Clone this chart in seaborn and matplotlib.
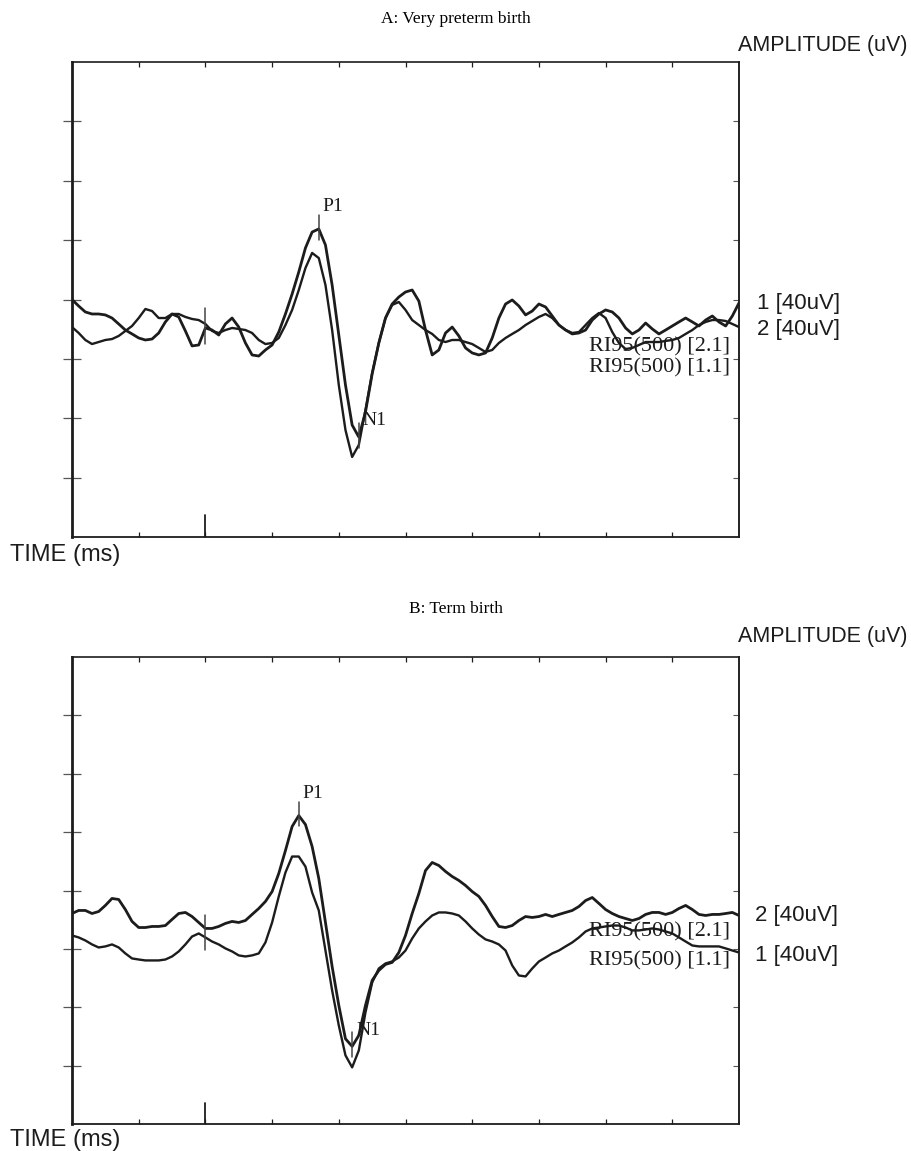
import numpy as np
import pandas as pd
import matplotlib
matplotlib.use("Agg")
import matplotlib.pyplot as plt
import seaborn as sns

# ---------------- data (amplitude in uV, 5 ms sampling) ----------------
time_ms = list(range(-100, 405, 5))

a_ch1 = [0.0, -0.55, -1.05, -1.22, -1.22, -1.30, -1.56, -2.06, -2.57, -2.90,
         -3.24, -3.41, -3.33, -2.82, -1.89, -1.22, -1.47, -2.65, -3.91, -3.83,
         -2.40, -2.57, -2.99, -2.06, -1.56, -2.32, -3.66, -4.67, -4.76, -4.25,
         -3.83, -2.74, -1.22, 0.46, 2.32, 4.34, 5.68, 5.94, 4.59, 1.22,
         -2.99, -7.20, -10.57, -11.58, -9.47, -6.27, -3.66, -1.56, -0.38, 0.21,
         0.63, 0.80, -0.13, -2.57, -4.67, -4.25, -2.82, -2.32, -3.07, -4.08,
         -4.50, -4.67, -4.50, -3.24, -1.56, -0.38, -0.04, -0.55, -1.30, -0.97,
         -0.38, -0.63, -1.39, -2.15, -2.57, -2.90, -2.82, -2.57, -1.73, -1.22,
         -0.88, -1.05, -1.56, -2.40, -2.90, -2.57, -1.98, -2.48, -2.90, -2.57,
         -2.23, -1.89, -1.56, -1.89, -2.23, -1.73, -1.39, -1.89, -2.23, -1.39,
         -0.29]

a_ch2 = [-2.32, -2.82, -3.41, -3.75, -3.58, -3.41, -3.33, -3.07, -2.65, -2.23,
         -1.56, -0.80, -0.97, -1.56, -1.56, -1.22, -1.22, -1.47, -1.64, -1.73,
         -2.06, -2.65, -2.82, -2.57, -2.40, -2.48, -2.57, -2.82, -3.41, -3.75,
         -3.66, -3.24, -2.15, -0.88, 0.80, 2.65, 3.92, 3.49, 1.22, -2.57,
         -7.20, -10.99, -13.26, -12.25, -9.30, -6.19, -3.66, -1.56, -0.46, -0.21,
         -0.88, -1.73, -2.15, -2.57, -2.90, -3.41, -3.58, -3.41, -3.41, -3.58,
         -3.75, -4.08, -4.42, -4.25, -3.66, -3.24, -2.90, -2.57, -2.15, -1.81,
         -1.47, -1.22, -1.56, -2.15, -2.57, -2.82, -2.74, -2.15, -1.56, -1.14,
         -1.56, -2.74, -3.66, -4.17, -4.08, -3.83, -3.58, -3.58, -3.58, -3.49,
         -3.41, -3.24, -2.90, -2.57, -2.15, -1.89, -1.73, -1.73, -1.81, -2.06,
         -2.32]

b_ch1 = [-3.85, -4.02, -4.28, -4.62, -4.88, -4.79, -4.62, -4.88, -5.39, -5.82,
         -5.91, -5.99, -5.99, -5.99, -5.91, -5.65, -5.22, -4.62, -3.94, -3.68,
         -4.02, -4.37, -4.62, -4.96, -5.22, -5.56, -5.65, -5.56, -5.39, -4.45,
         -2.74, -0.51, 1.54, 2.91, 2.91, 2.05, -0.17, -1.71, -5.14, -8.56,
         -11.56, -14.12, -15.15, -13.70, -10.44, -7.88, -6.68, -6.25, -6.08, -5.74,
         -5.14, -4.11, -3.25, -2.65, -2.14, -1.88, -1.88, -1.97, -2.14, -2.65,
         -3.25, -3.77, -4.19, -4.37, -4.62, -5.14, -6.42, -7.28, -7.36, -6.68,
         -6.08, -5.74, -5.39, -5.14, -4.79, -4.45, -4.02, -3.51, -3.25, -3.17,
         -3.08, -3.00, -3.00, -3.17, -3.42, -3.42, -3.34, -3.25, -3.34, -3.51,
         -3.68, -4.02, -4.37, -4.71, -4.79, -4.79, -4.79, -4.79, -4.96, -5.14,
         -5.31]

b_ch2 = [-1.97, -1.71, -1.71, -1.97, -1.80, -1.28, -0.68, -0.77, -1.63, -2.65,
         -3.17, -3.17, -3.08, -3.08, -3.00, -2.48, -1.97, -1.88, -2.23, -2.74,
         -3.25, -3.25, -3.08, -2.82, -2.65, -2.74, -2.57, -2.05, -1.54, -0.94,
         -0.09, 1.46, 3.42, 5.48, 6.42, 5.65, 3.77, 1.03, -2.74, -6.51,
         -9.84, -12.70, -13.35, -12.41, -9.84, -7.70, -6.85, -6.33, -6.16, -5.31,
         -3.85, -1.97, -0.26, 1.71, 2.40, 2.14, 1.63, 1.20, 0.86, 0.43,
         -0.09, -0.51, -1.28, -2.23, -3.08, -3.17, -3.00, -2.57, -2.23, -2.31,
         -2.23, -2.05, -2.23, -2.05, -1.88, -1.71, -1.37, -0.86, -0.60, -1.11,
         -1.63, -1.97, -2.23, -2.40, -2.57, -2.40, -2.05, -1.88, -1.88, -2.05,
         -1.88, -1.54, -1.28, -1.63, -2.05, -2.14, -2.05, -2.05, -1.97, -1.88,
         -2.14]

# peak latencies (ms)
a_p1_ms, a_n1_ms = 85, 115
b_p1_ms, b_n1_ms = 70, 110

panel_titles = ["A: Very preterm birth", "B: Term birth"]
channel_labels_a = ["1 [40uV]", "2 [40uV]"]
channel_labels_b = ["2 [40uV]", "1 [40uV]"]
ri_labels = ["RI95(500) [2.1]", "RI95(500) [1.1]"]

# ---------------- style ----------------
sns.set_style("white")
plt.rcParams['font.family'] = ['Liberation Sans', 'DejaVu Sans']
INK = "#1c1c1c"
SERIF = ['Liberation Serif', 'DejaVu Serif']

W, H = 911, 1151
fig = plt.figure(figsize=(W / 100, H / 100), dpi=100)
fig.patch.set_facecolor("white")


def fx(px):
    return px / W


def fy(py):
    return 1 - py / H


def make_axes(top_px, bottom_px):
    ax = fig.add_axes([fx(72), fy(bottom_px), fx(739) - fx(72), fy(top_px) - fy(bottom_px)])
    ax.set_xlim(-100, 400)
    ax.set_ylim(-20, 20)
    ax.set_xticks(np.arange(-50, 400, 50))
    ax.set_yticks(np.arange(-15, 20, 5))
    ax.set_xticklabels([])
    ax.set_yticklabels([])
    ax.tick_params(axis='x', top=True, bottom=True, direction='in', length=3.5,
                   width=0.9, color=INK)
    ax.tick_params(axis='y', left=True, right=False, direction='inout', length=13,
                   width=0.9, color="#555555")
    sec = ax.secondary_yaxis('right')
    sec.set_yticks(np.arange(-15, 20, 5))
    sec.set_yticklabels([])
    sec.tick_params(direction='in', length=4, width=0.8, color="#555555")
    sec.spines['right'].set_linewidth(1.1)
    sec.spines['right'].set_color(INK)
    for side, lw in [('left', 2.0), ('top', 1.2), ('right', 1.1), ('bottom', 1.3)]:
        ax.spines[side].set_visible(True)
        ax.spines[side].set_linewidth(lw)
        ax.spines[side].set_color(INK)
    ax.grid(False)
    ax.axvline(0, ymin=0, ymax=0.046, color=INK, lw=1.3)
    return ax


axA = make_axes(62, 537)
axB = make_axes(657, 1124)


def draw_panel(ax, ch_first, ch_second, p1_ms, n1_ms):
    df = pd.DataFrame({"time": time_ms * 2,
                       "amp": ch_first + ch_second,
                       "channel": ["first"] * len(time_ms) + ["second"] * len(time_ms)})
    sns.lineplot(data=df[df.channel == "first"], x="time", y="amp", ax=ax,
                 color=INK, lw=2.0, legend=False, solid_joinstyle='round',
                 solid_capstyle='round')
    sns.lineplot(data=df[df.channel == "second"], x="time", y="amp", ax=ax,
                 color=INK, lw=1.7, legend=False, solid_joinstyle='round',
                 solid_capstyle='round')
    ax.set_xlabel("")
    ax.set_ylabel("")
    # stimulus marker
    t = np.array(time_ms)
    s0 = (np.interp(0, t, ch_first) + np.interp(0, t, ch_second)) / 2
    ax.plot([0, 0], [s0 + 1.5, s0 - 1.5], color="#444444", lw=1.1)
    # P1 / N1 markers on the first-listed (tall P1) channel
    p1v = np.interp(p1_ms, t, ch_first)
    n1v = np.interp(n1_ms, t, ch_first)
    ax.plot([p1_ms, p1_ms], [p1v + 1.2, p1v - 0.9], color="#444444", lw=1.1)
    ax.plot([n1_ms, n1_ms], [n1v + 1.2, n1v - 0.9], color="#444444", lw=1.1)
    ax.text(p1_ms + 3, p1v + 1.9, "P1", family=SERIF, fontsize=14,
            ha='left', va='center', color=INK)
    ax.text(n1_ms + 3, n1v + 1.4, "N1", family=SERIF, fontsize=14,
            ha='left', va='center', color=INK)


draw_panel(axA, a_ch1, a_ch2, a_p1_ms, a_n1_ms)
draw_panel(axB, b_ch2, b_ch1, b_p1_ms, b_n1_ms)

# ---------------- figure texts ----------------
fig.text(fx(456), fy(19), panel_titles[0], family=SERIF, fontsize=12.5,
         ha='center', va='center', color="black")
fig.text(fx(456), fy(609), panel_titles[1], family=SERIF, fontsize=12.5,
         ha='center', va='center', color="black")

for ytxt in (45, 637):
    fig.text(fx(908), fy(ytxt), "AMPLITUDE (uV)", fontsize=15.5, ha='right',
             va='center', color=INK)
for ytxt in (555, 1140):
    fig.text(fx(10), fy(ytxt), "TIME (ms)", fontsize=17, ha='left',
             va='center', color=INK)

# panel A channel / RI labels
fig.text(fx(757), fy(303), channel_labels_a[0], fontsize=16, ha='left', va='center', color=INK)
fig.text(fx(757), fy(329), channel_labels_a[1], fontsize=16, ha='left', va='center', color=INK)
fig.text(fx(730), fy(347), ri_labels[0], family=SERIF, fontsize=16, ha='right', va='center', color=INK)
fig.text(fx(730), fy(368), ri_labels[1], family=SERIF, fontsize=16, ha='right', va='center', color=INK)

# panel B channel / RI labels
fig.text(fx(755), fy(915), channel_labels_b[0], fontsize=16, ha='left', va='center', color=INK)
fig.text(fx(755), fy(955), channel_labels_b[1], fontsize=16, ha='left', va='center', color=INK)
fig.text(fx(730), fy(932), ri_labels[0], family=SERIF, fontsize=16, ha='right', va='center', color=INK)
fig.text(fx(730), fy(961), ri_labels[1], family=SERIF, fontsize=16, ha='right', va='center', color=INK)

fig.savefig("out.png", dpi=100, facecolor="white")
